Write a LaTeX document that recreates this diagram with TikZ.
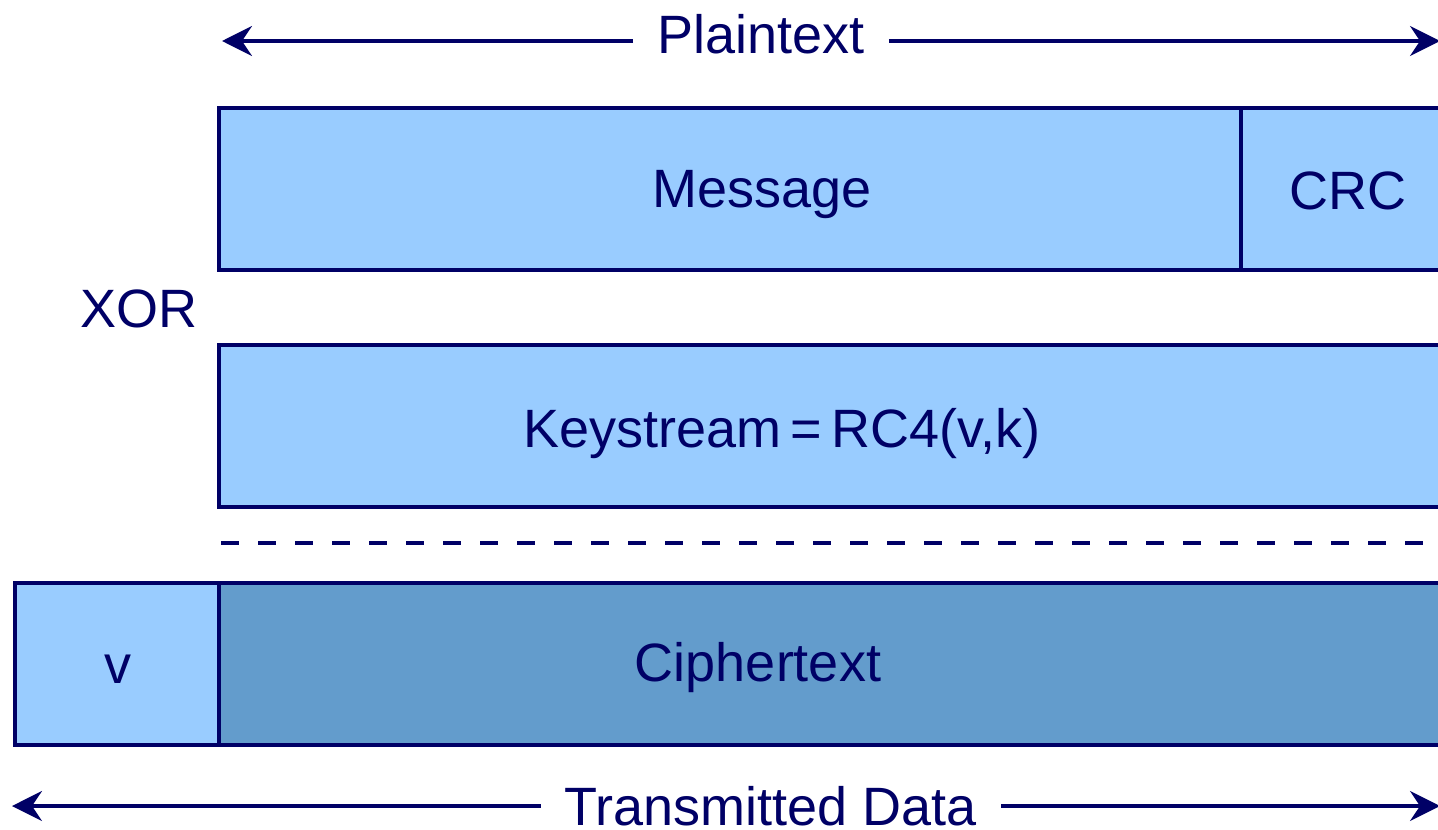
\documentclass[tikz,border=0pt]{standalone}
\usepackage{fontspec}
\setmainfont{Liberation Sans}
\usetikzlibrary{arrows.meta}
\definecolor{ink}{RGB}{0,0,102}
\definecolor{lightblue}{RGB}{153,204,255}
\definecolor{midblue}{RGB}{99,156,204}
\tikzset{
  lbl/.style={anchor=base, text=ink, font=\fontsize{27}{32}\selectfont, inner sep=0pt},
  gaplbl/.style={lbl, inner xsep=12pt},
  fieldbox/.style={draw=ink, line width=2pt, fill=lightblue},
  cipherbox/.style={draw=ink, line width=2pt, fill=midblue},
  spanarrow/.style={draw=ink, line width=1.6pt, -{Stealth[length=15pt,width=15pt,inset=5pt]}},
  sepline/.style={draw=ink, line width=1.6pt, dash pattern=on 9pt off 9.5pt}
}
\begin{document}
\begin{tikzpicture}[x=0.5pt,y=-0.5pt]
\useasboundingbox (0,0) rectangle (1438,829);
\clip (0,0) rectangle (1438,829);
% boxes
\draw[fieldbox] (219,108) rectangle (1241,270);
\draw[fieldbox] (1241,108) rectangle (1460,270);
\draw[fieldbox] (219,345) rectangle (1460,507);
\draw[fieldbox] (15,583) rectangle (219,745);
\draw[cipherbox] (219,583) rectangle (1460,745);
% dashed separator
\coordinate (dashL) at (221,543);
\coordinate (dashR) at (1430,543);
\draw[sepline] (dashL) -- (dashR);
% labels
\node[lbl] (msg) at (762,207) {Message};
\node[lbl] (crc) at (1348,209) {CRC};
\node[lbl] (xor) at (139,327) {XOR};
\node[lbl] (ks) at (782,447) {Keystream{\,}={\,}RC4(v,k)};
\node[lbl] (v) at (118,683) {v};
\node[lbl] (ct) at (758,681) {Ciphertext};
% span arrows
\node[gaplbl] (plain) at (761,54) {Plaintext};
\coordinate (plL) at (222,41);
\coordinate (plR) at (1440,41);
\draw[spanarrow] (plain.west |- plL) -- (plL);
\draw[spanarrow] (plain.east |- plR) -- (plR);
\node[gaplbl] (trans) at (771,825) {Transmitted Data};
\coordinate (trL) at (12,806);
\coordinate (trR) at (1440,806);
\draw[spanarrow] (trans.west |- trL) -- (trL);
\draw[spanarrow] (trans.east |- trR) -- (trR);
\end{tikzpicture}
\end{document}
